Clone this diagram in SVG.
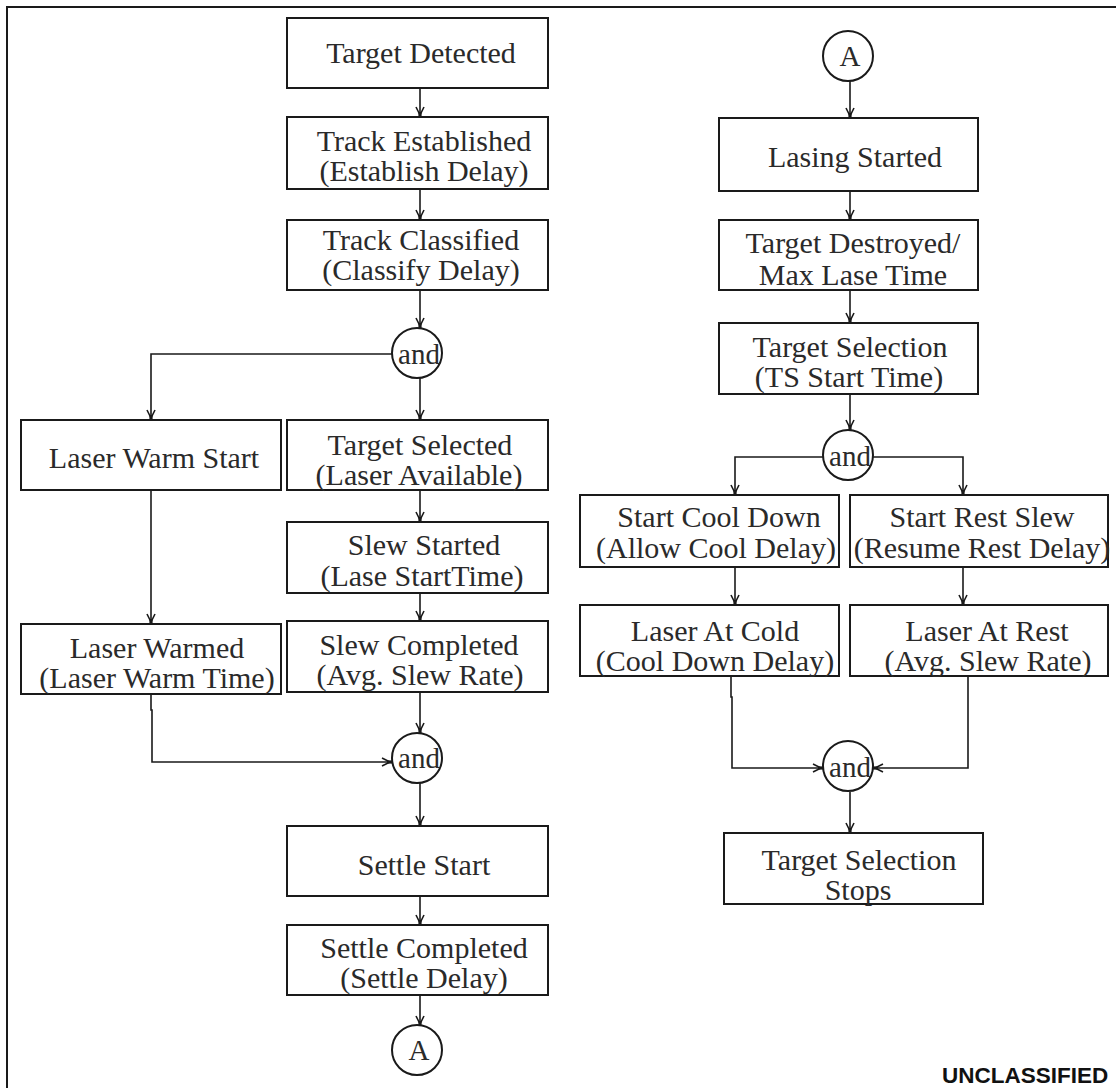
<svg xmlns="http://www.w3.org/2000/svg" width="1116" height="1088" viewBox="0 0 1116 1088">
<style>
.box{fill:#fff;stroke:#1a1a1a;stroke-width:2}
.circ{fill:#fff;stroke:#1a1a1a;stroke-width:2}
.t{font-family:"Liberation Serif","Times New Roman",serif;font-size:30px;fill:#2a2a2a;text-anchor:middle}
.c{font-family:"Liberation Serif","Times New Roman",serif;font-size:29px;fill:#2a2a2a;text-anchor:middle}
.ln{fill:none;stroke:#1a1a1a;stroke-width:1.6;marker-end:url(#arr)}
.frame{fill:none;stroke:#1a1a1a;stroke-width:2}
</style>
<defs>
<marker id="arr" markerUnits="userSpaceOnUse" viewBox="-12 -6 14 12" refX="0" refY="0" markerWidth="14" markerHeight="12" orient="auto">
<path d="M-10,-4 L-2,0 L-10,4" fill="none" stroke="#1a1a1a" stroke-width="1.6"/>
<path d="M-5,0 L0,0" stroke="#1a1a1a" stroke-width="3.2"/>
</marker>
</defs>
<rect width="1116" height="1088" fill="#fff"/>
<path class="frame" d="M7,1088 V7 H1116"/>

<g id="connectors">
<path class="ln" d="M420,88 V117"/>
<path class="ln" d="M420,189 V220"/>
<path class="ln" d="M420,290 V328"/>
<path class="ln" d="M392,354 H151 V420"/>
<path class="ln" d="M420,378 V420"/>
<path class="ln" d="M420,490 V522"/>
<path class="ln" d="M420,593 V621"/>
<path class="ln" d="M151,490 V624"/>
<path class="ln" d="M420,692 V733"/>
<path class="ln" d="M151,694 V710 H152 V762 H392"/>
<path class="ln" d="M420,783 V826"/>
<path class="ln" d="M420,896 V925"/>
<path class="ln" d="M420,995 V1026"/>
<path class="ln" d="M850,81 V118"/>
<path class="ln" d="M850,191 V220"/>
<path class="ln" d="M850,290 V323"/>
<path class="ln" d="M850,394 V430"/>
<path class="ln" d="M824,457 H735 V495"/>
<path class="ln" d="M873,457 H963 V495"/>
<path class="ln" d="M735,567 V605"/>
<path class="ln" d="M963,567 V605"/>
<path class="ln" d="M731,676 V697 H732 V768 H823"/>
<path class="ln" d="M968,676 V768 H873"/>
<path class="ln" d="M850,792 V833"/>
</g>

<g id="target-detected"><rect class="box" x="287" y="18" width="261" height="70"/><text class="t" x="421" y="63">Target Detected</text></g>
<g id="track-established"><rect class="box" x="287" y="117" width="261" height="72"/><text class="t" x="424" y="151">Track Established</text><text class="t" x="424" y="181">(Establish Delay)</text></g>
<g id="track-classified"><rect class="box" x="287" y="220" width="261" height="70"/><text class="t" x="421" y="250">Track Classified</text><text class="t" x="421" y="280">(Classify Delay)</text></g>
<g id="and-1"><circle class="circ" cx="417" cy="353" r="25"/><text class="c" x="419" y="364">and</text></g>
<g id="laser-warm-start"><rect class="box" x="21" y="420" width="260" height="70"/><text class="t" x="154" y="468">Laser Warm Start</text></g>
<g id="target-selected"><rect class="box" x="287" y="420" width="261" height="70"/><text class="t" x="420" y="455">Target Selected</text><text class="t" x="419" y="485">(Laser Available)</text></g>
<g id="slew-started"><rect class="box" x="287" y="522" width="261" height="71"/><text class="t" x="424" y="555">Slew Started</text><text class="t" x="422" y="586">(Lase StartTime)</text></g>
<g id="laser-warmed"><rect class="box" x="21" y="624" width="260" height="70"/><text class="t" x="157" y="658">Laser Warmed</text><text class="t" x="157" y="688">(Laser Warm Time)</text></g>
<g id="slew-completed"><rect class="box" x="287" y="621" width="261" height="71"/><text class="t" x="419" y="655">Slew Completed</text><text class="t" x="420" y="685">(Avg. Slew Rate)</text></g>
<g id="and-2"><circle class="circ" cx="417" cy="758" r="25"/><text class="c" x="419" y="768">and</text></g>
<g id="settle-start"><rect class="box" x="287" y="826" width="261" height="70"/><text class="t" x="424" y="875">Settle Start</text></g>
<g id="settle-completed"><rect class="box" x="287" y="925" width="261" height="70"/><text class="t" x="424" y="958">Settle Completed</text><text class="t" x="424" y="988">(Settle Delay)</text></g>
<g id="connector-a-out"><circle class="circ" cx="417" cy="1050" r="25"/><text class="c" x="419" y="1060">A</text></g>

<g id="connector-a-in"><circle class="circ" cx="848" cy="56" r="25"/><text class="c" x="850" y="66">A</text></g>
<g id="lasing-started"><rect class="box" x="719" y="118" width="259" height="73"/><text class="t" x="855" y="167">Lasing Started</text></g>
<g id="target-destroyed"><rect class="box" x="719" y="220" width="259" height="70"/><text class="t" x="853" y="253">Target Destroyed/</text><text class="t" x="853" y="285">Max Lase Time</text></g>
<g id="target-selection"><rect class="box" x="719" y="323" width="259" height="71"/><text class="t" x="850" y="357">Target Selection</text><text class="t" x="849" y="387">(TS Start Time)</text></g>
<g id="and-3"><circle class="circ" cx="848" cy="455" r="25"/><text class="c" x="850" y="466">and</text></g>
<g id="start-cool-down"><rect class="box" x="580" y="495" width="259" height="72"/><text class="t" x="719" y="527">Start Cool Down</text><text class="t" x="716" y="558">(Allow Cool Delay)</text></g>
<g id="start-rest-slew"><rect class="box" x="850" y="495" width="258" height="72"/><text class="t" x="982" y="527">Start Rest Slew</text><text class="t" x="982" y="558">(Resume Rest Delay)</text></g>
<g id="laser-at-cold"><rect class="box" x="580" y="605" width="259" height="71"/><text class="t" x="715" y="641">Laser At Cold</text><text class="t" x="715" y="671">(Cool Down Delay)</text></g>
<g id="laser-at-rest"><rect class="box" x="850" y="605" width="258" height="71"/><text class="t" x="987" y="641">Laser At Rest</text><text class="t" x="988" y="671">(Avg. Slew Rate)</text></g>
<g id="and-4"><circle class="circ" cx="848" cy="766" r="25"/><text class="c" x="850" y="777">and</text></g>
<g id="target-selection-stops"><rect class="box" x="724" y="833" width="259" height="71"/><text class="t" x="859" y="870">Target Selection</text><text class="t" x="858" y="900">Stops</text></g>

<text x="942" y="1083" font-family="Liberation Sans, Arial, sans-serif" font-weight="bold" font-size="22.5" fill="#111">UNCLASSIFIED</text>
</svg>
